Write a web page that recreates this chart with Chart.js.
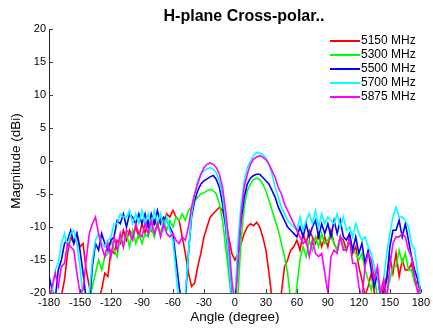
<!doctype html>
<html lang="en">

<head>
    <meta charset="utf-8">
    <title>H-plane Cross-polar</title>
    <script src="https://cdn.jsdelivr.net/npm/chart.js"></script>
    <style>
        body {
            margin: 0;
            background-color: white;
        }

        .chartCard {
            width: 433px;
            height: 331px;
        }
    </style>
</head>

<body>
    <div class="chartCard">
        <canvas id="myChart" width="433" height="331"></canvas>
    </div>

    <script>
        // angle grid, 3 degree steps from -180 to 180
        const angles = [];
        for (let a = -180; a <= 180; a += 3) angles.push(a);

        const seriesNames = ['5150 MHz', '5300 MHz', '5500 MHz', '5700 MHz', '5875 MHz'];
        const seriesColors = ['#ff0000', '#00ff00', '#0000ff', '#00ffff', '#ff00ff'];

        const xTicks = [-180, -150, -120, -90, -60, -30, 0, 30, 60, 90, 120, 150, 180];
        const yTicks = [-20, -15, -10, -5, 0, 5, 10, 15, 20];

        // cross-polar magnitude in dBi, one value per angle
        const mag5150 = [
            -22, -23, -21, -22, -20.5, -18, -14, -11.5, -12.5, -11,
            -13, -12.5, -16.5, -19, -21, -22, -21, -19.5, -17, -17.5,
            -13.5, -14, -12, -12.5, -10.5, -12, -10.5, -11.5, -10, -11.5,
            -9.5, -11, -9, -10.5, -9, -10, -8.5, -9.5, -8, -8.5,
            -7.5, -8.5, -9, -11.5, -14, -17, -19, -18.5, -16, -14,
            -11.5, -10, -8.5, -8, -7.5, -7, -7.5, -9, -11.5, -14,
            -15, -14, -12.5, -11, -10, -9.5, -9.8, -9.3, -10, -11.5,
            -13.5, -17, -21, -22, -22, -20, -16, -15, -13.5, -13,
            -12, -13.5, -11, -12.5, -10.5, -11.5, -12.5, -11, -13, -11.5,
            -13, -10.5, -12.5, -13.5, -11.5, -12, -13.5, -11.5, -14, -13,
            -16, -18, -20.5, -19, -17, -20, -22, -21, -19, -17.5,
            -14.5, -17, -14, -17.5, -15, -16.5, -16.5, -15.5, -18, -18.5,
            -20
        ];
        const mag5300 = [
            -22, -22, -21, -22, -22, -21, -22, -22, -21, -22,
            -22, -23, -22, -21, -19, -17, -15, -16.5, -14.5, -14,
            -12, -13.5, -14.5, -11.5, -13, -11, -13, -10.5, -12.5, -11,
            -12.5, -11, -11.5, -10, -11.5, -9.5, -11, -9, -10.5, -9,
            -10, -8.5, -9, -8, -9, -7.5, -7, -6, -5.5, -5,
            -4.8, -4.5, -4.3, -4.5, -5, -6.5, -9, -13, -17, -22,
            -22, -20, -12, -7, -4.5, -3.5, -2.8, -2.6, -2.8, -3.5,
            -4.5, -6, -7.5, -9, -10.5, -12.5, -14.5, -17, -21, -23,
            -19, -15, -13, -14.5, -12, -13.5, -11.5, -13, -11, -12.5,
            -12, -11, -12.5, -13.5, -11.5, -13, -13.5, -12, -13.5, -14,
            -15, -14, -16.5, -18, -19.5, -17, -21, -22, -22, -20,
            -18, -16, -16, -13.5, -15.5, -14, -16.5, -16.5, -18.5, -19.5,
            -21
        ];
        const mag5500 = [
            -17.5, -19.5, -21, -16.5, -15, -12.5, -12, -10.5, -12.5, -11,
            -13.5, -17, -21, -22, -16, -12.5, -13.5, -11, -12.5, -13.5,
            -12, -11.5, -9, -9.5, -8, -10, -8, -8.5, -9.5, -8,
            -9.5, -8, -10, -8, -9.5, -7.5, -9.5, -8.5, -9, -10,
            -11, -15, -19, -22, -21, -14, -8.5, -6, -4.5, -3.5,
            -3, -2.7, -2.4, -2.2, -2.8, -4, -6.5, -10, -15, -21,
            -22, -14, -9, -5.5, -3.5, -2.6, -2.2, -2, -2, -2.5,
            -3, -3.5, -4.5, -5.5, -7, -8, -9, -10, -10.5, -11,
            -11.5, -10, -11.5, -9.5, -11.5, -10, -9, -11.5, -9.5, -11,
            -9.5, -11.5, -9, -11, -9, -11.5, -12, -11, -13.5, -11.5,
            -14, -12.5, -15.5, -13.5, -16.5, -19, -17, -21, -20, -18,
            -13, -10.5, -10.5, -9, -11.5, -9.5, -12, -14.5, -16.5, -18,
            -20
        ];
        const mag5700 = [
            -21, -20, -16.5, -15.5, -12.5, -11, -13, -11, -10.5, -12.5,
            -16, -21, -22, -20, -15, -12, -11, -12.5, -13, -12,
            -11.5, -9.5, -9.5, -8, -8.5, -8.5, -7.5, -9.5, -8, -9.5,
            -7.5, -9.5, -8, -10, -7.5, -9.5, -8, -10.5, -8.5, -10.5,
            -12, -17, -22, -21, -20, -14, -8, -5, -3, -2,
            -1.5, -1.2, -1, -1.2, -1.8, -3, -5, -9, -15, -22,
            -21, -12, -6.5, -3, -1, 0, 0.8, 1.3, 1.2, 1,
            0.5, -0.5, -2, -4, -5.5, -7, -8, -9, -9.5, -10,
            -10.5, -8.5, -10.5, -9, -8, -9.5, -7.5, -10, -8, -9.5,
            -8.5, -9, -9.5, -8, -10, -8.5, -10.5, -10, -11.5, -9.5,
            -11, -12, -11.5, -13, -14, -16, -17.5, -20, -18, -14,
            -11, -8.5, -7, -8.5, -8.5, -9, -10, -12.5, -13.5, -17,
            -20
        ];
        const mag5875 = [
            -21, -19, -17, -19, -16, -15.5, -12.5, -13, -13.5, -17,
            -20, -19.5, -15, -11, -9.5, -8.5, -11, -13, -14.5, -12.5,
            -14.5, -11.5, -13.5, -11, -13, -10.5, -11, -12, -9.5, -11,
            -11.5, -9.5, -11, -9, -11, -9.5, -11.5, -9.5, -11, -11.5,
            -11, -12, -12.5, -11.5, -12, -10, -7, -5, -3.5, -2,
            -1, -0.5, -0.3, -0.5, -1, -2, -4, -7.5, -12, -18,
            -22, -16, -8, -4, -2, -0.5, 0.3, 0.6, 0.8, 0.6,
            0.2, -0.5, -1.5, -2.5, -4, -5, -6.5, -7.5, -8.5, -9.5,
            -10.5, -11.5, -12.5, -12, -14.5, -12, -14, -14.5, -14, -17,
            -20, -14.5, -13.5, -14, -11.5, -13.5, -13.5, -12, -15.5, -15.5,
            -19, -21, -16, -14, -15, -18, -16, -20, -18, -21,
            -16, -12.5, -11.5, -11.5, -11, -11.5, -13.5, -14.5, -17.5, -20,
            -19
        ];

        const seriesValues = [mag5150, mag5300, mag5500, mag5700, mag5875];

        const datasets = seriesValues.map((vals, i) => ({
            label: seriesNames[i],
            data: vals.map((v, k) => ({ x: angles[k], y: v })),
            borderColor: seriesColors[i],
            backgroundColor: seriesColors[i],
            borderWidth: 1.6,
            pointRadius: 0,
            tension: 0,
            // later series sit on top
            order: seriesValues.length - 1 - i
        }));

        // title, legend and inward tick marks
        const decorations = {
            id: 'decorations',
            afterDraw(chart) {
                const { ctx, scales: { x, y } } = chart;
                ctx.save();

                ctx.strokeStyle = '#404040';
                ctx.lineWidth = 1;
                xTicks.forEach(v => {
                    const px = Math.round(x.getPixelForValue(v)) + 0.5;
                    ctx.beginPath();
                    ctx.moveTo(px, y.bottom);
                    ctx.lineTo(px, y.bottom - 4);
                    ctx.stroke();
                });
                yTicks.forEach(v => {
                    const py = Math.round(y.getPixelForValue(v)) + 0.5;
                    ctx.beginPath();
                    ctx.moveTo(x.left, py);
                    ctx.lineTo(x.left + 4, py);
                    ctx.stroke();
                });

                ctx.fillStyle = '#000';
                ctx.font = 'bold 16px "Liberation Sans", Arial, sans-serif';
                ctx.textAlign = 'center';
                ctx.textBaseline = 'middle';
                ctx.fillText('H-plane Cross-polar..', 244, 17);

                ctx.font = '12px "Liberation Sans", Arial, sans-serif';
                ctx.textAlign = 'left';
                seriesNames.forEach((name, i) => {
                    const ly = 41 + i * 14;
                    ctx.strokeStyle = seriesColors[i];
                    ctx.lineWidth = 2;
                    ctx.beginPath();
                    ctx.moveTo(330, ly);
                    ctx.lineTo(360, ly);
                    ctx.stroke();
                    ctx.fillStyle = '#000';
                    ctx.fillText(name, 361, ly);
                });
                ctx.restore();
            }
        };

        const tickFont = { family: '"Liberation Sans", Arial, sans-serif', size: 11 };
        const titleFont = { family: '"Liberation Sans", Arial, sans-serif', size: 13.5 };

        const config = {
            type: 'line',
            data: { datasets: datasets },
            options: {
                responsive: false,
                animation: false,
                layout: {
                    padding: { top: 29, right: 10, left: 0, bottom: 0 }
                },
                plugins: {
                    legend: { display: false },
                    tooltip: { enabled: false }
                },
                scales: {
                    x: {
                        type: 'linear',
                        min: -180,
                        max: 180,
                        afterBuildTicks: (scale) => {
                            scale.ticks = xTicks.map(v => ({ value: v }));
                        },
                        afterFit: (scale) => { scale.height = 38; },
                        grid: { display: false, drawTicks: false },
                        border: { display: true, color: '#505050', width: 1 },
                        ticks: { color: '#000', font: tickFont, padding: 3, maxRotation: 0, autoSkip: false },
                        title: {
                            display: true,
                            text: 'Angle (degree)',
                            color: '#000',
                            font: titleFont,
                            padding: { top: 0, bottom: 6 }
                        }
                    },
                    y: {
                        type: 'linear',
                        min: -20,
                        max: 20,
                        afterBuildTicks: (scale) => {
                            scale.ticks = yTicks.map(v => ({ value: v }));
                        },
                        afterFit: (scale) => { scale.width = 49; },
                        grid: { display: false, drawTicks: false },
                        border: { display: true, color: '#202020', width: 1 },
                        ticks: { color: '#000', font: tickFont, padding: 3 },
                        title: {
                            display: true,
                            text: 'Magnitude (dBi)',
                            color: '#000',
                            font: titleFont,
                            padding: { top: 8, bottom: 0 }
                        }
                    }
                }
            },
            plugins: [decorations]
        };

        const myChart = new Chart(document.getElementById('myChart'), config);
    </script>
</body>

</html>
